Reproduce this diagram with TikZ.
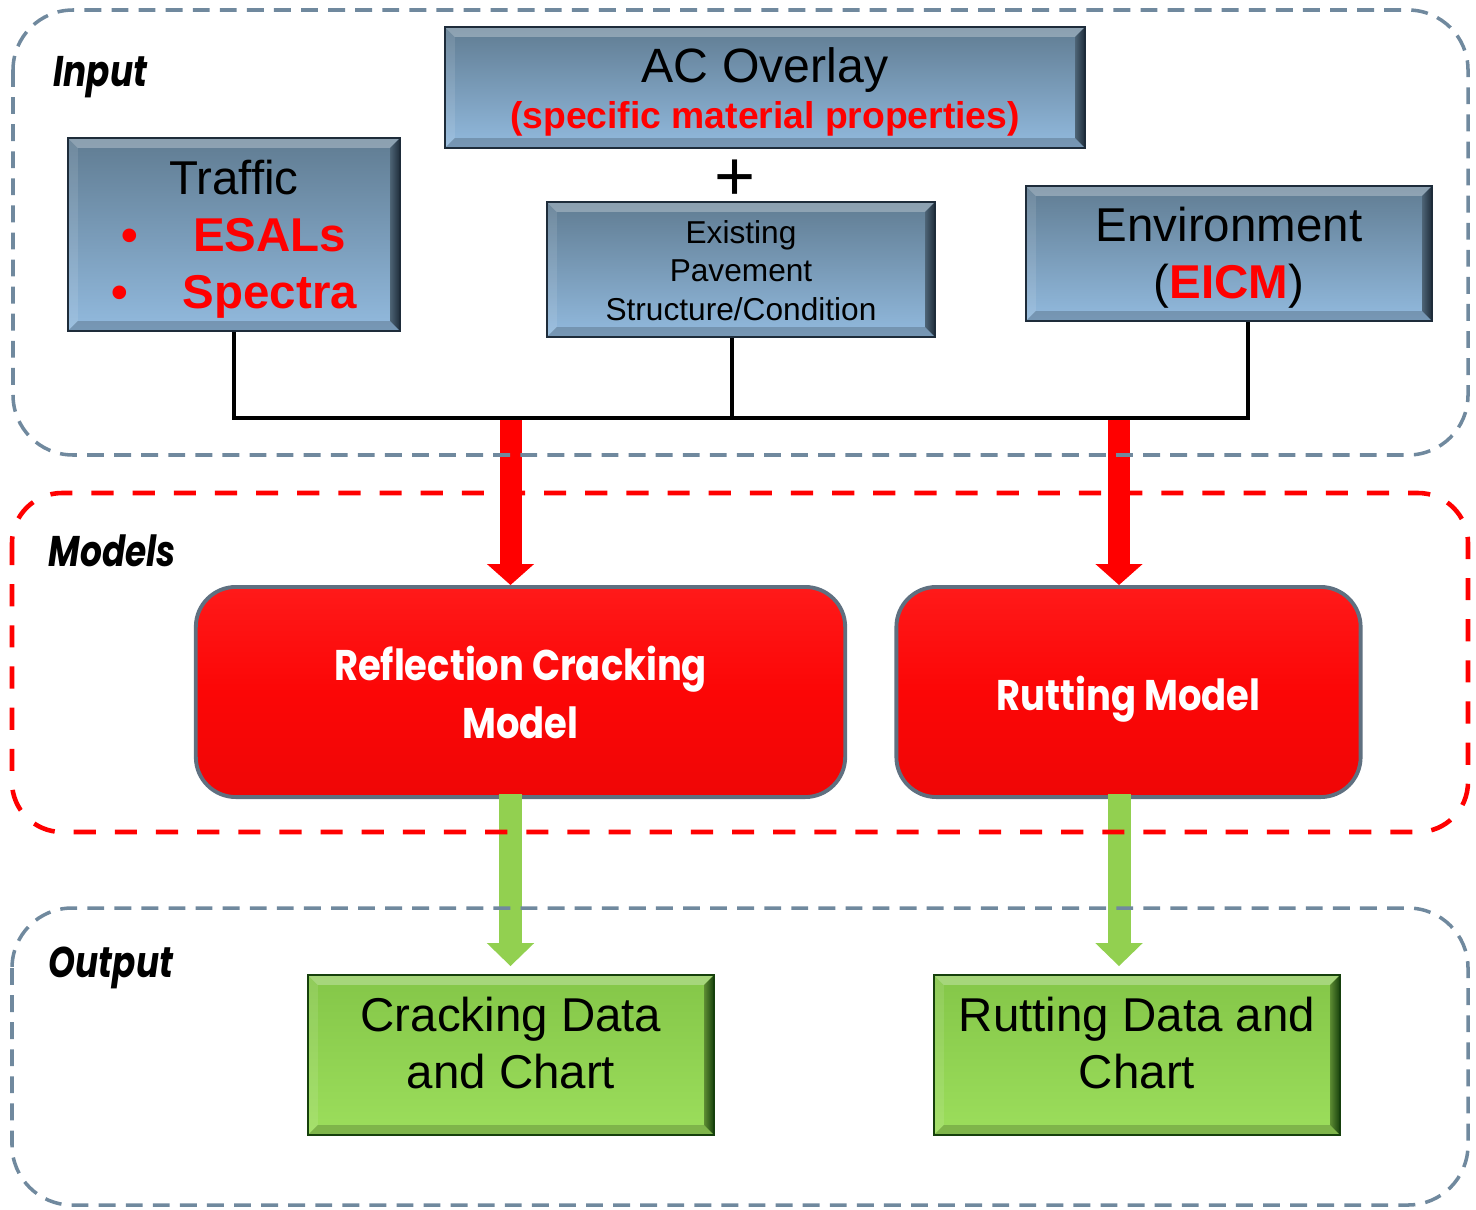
\documentclass[tikz,border=0pt]{standalone}
\usepackage{fontspec}
\setmainfont{Liberation Sans}
\newfontfamily\futura[FakeStretch=0.86]{Poppins}
\newfontfamily\futuralab[FakeStretch=0.80]{Poppins}
\usetikzlibrary{arrows.meta}
\definecolor{slate}{RGB}{112,137,158}
\definecolor{bluetop}{RGB}{96,124,146}
\definecolor{bluebot}{RGB}{146,186,222}
\definecolor{bluedark}{RGB}{30,44,58}
\definecolor{greentop}{RGB}{132,198,72}
\definecolor{greenbot}{RGB}{156,222,92}
\definecolor{greendark}{RGB}{22,64,12}
\definecolor{myred}{RGB}{255,0,0}
\definecolor{boxred}{RGB}{252,6,6}
\definecolor{redrim}{RGB}{95,112,128}
\definecolor{arrowgreen}{RGB}{146,208,80}
\def\bv{0.1cm}
\newcommand\shifted[2]{\raisebox{#1}[\height][\depth]{\begin{tabular}{@{}c@{}}#2\end{tabular}}}
\tikzset{
  bevelbox/.style n args={4}{inner sep=0pt, align=center, line width=0.5pt,
    top color=#1, bottom color=#2, draw=#3,
    path picture={
      \fill[white, opacity=0.28] (path picture bounding box.north west) -- (path picture bounding box.north east)
        -- ([shift={(-\bv,-\bv)}]path picture bounding box.north east) -- ([shift={(\bv,-\bv)}]path picture bounding box.north west) -- cycle;
      \fill[white, opacity=0.10] (path picture bounding box.north west) -- (path picture bounding box.south west)
        -- ([shift={(\bv,\bv)}]path picture bounding box.south west) -- ([shift={(\bv,-\bv)}]path picture bounding box.north west) -- cycle;
      \fill[black, opacity=0.18] (path picture bounding box.south west) -- (path picture bounding box.south east)
        -- ([shift={(-\bv,\bv)}]path picture bounding box.south east) -- ([shift={(\bv,\bv)}]path picture bounding box.south west) -- cycle;
      \shade[left color=#4, right color=#3] (path picture bounding box.north east) -- (path picture bounding box.south east)
        -- ([shift={(-\bv,\bv)}]path picture bounding box.south east) -- ([shift={(-\bv,-\bv)}]path picture bounding box.north east) -- cycle;
    }},
  bluebox/.style={bevelbox={bluetop}{bluebot}{bluedark}{bluetop!80!black}},
  greenbox/.style={bevelbox={greentop}{greenbot}{greendark}{greentop!70!black}},
  modelbox/.style={inner sep=0pt, align=center, rounded corners=0.4cm, draw=redrim, line width=1.1pt,
    top color=myred!90!white, bottom color=boxred!95!black, middle color=boxred, text=white,
    font=\futura\fontsize{12.2}{16.5}\selectfont\bfseries},
  grouplabel/.style={anchor=base west, inner sep=0pt, font=\futuralab\fontsize{12.2}{14}\selectfont\bfseries\itshape},
  bigtext/.style={font=\fontsize{13.5}{16.2}\selectfont},
  bus/.style={draw=black, line width=1.15pt},
  redarrow/.style={draw=myred, line width=0.22cm, -{Triangle[width=0.46cm,length=0.21cm]}},
  greenarrow/.style={draw=arrowgreen, line width=0.23cm, -{Triangle[width=0.46cm,length=0.23cm]}},
  graydash/.style={draw=slate, line width=1pt, dash pattern=on 4.8pt off 2.9pt, rounded corners=0.6cm},
  reddash/.style={draw=myred, line width=1.3pt, dash pattern=on 6.3pt off 5.4pt, rounded corners=0.5cm}
}
\begin{document}
\begin{tikzpicture}[x=0.01cm, y=-0.01cm]
\useasboundingbox (0,0) rectangle (1476,1209);

% input boxes
\node[bluebox, minimum width=6.40cm, minimum height=1.21cm, font=\fontsize{13.7}{13.1}\selectfont] (ac) at (765,87.5)
  {\shifted{-0.075cm}{AC Overlay\\{\fontsize{10.6}{13.1}\selectfont\bfseries\color{myred}(specific material properties)}}};
\node[bluebox, bigtext, minimum width=3.32cm, minimum height=1.93cm] (traffic) at (234,234.5)
  {\shifted{-0.06cm}{Traffic\\{\bfseries\color{myred}\textbullet\hspace{0.55cm}ESALs}\\{\bfseries\color{myred}\textbullet\hspace{0.55cm}Spectra}}};
\node[font=\fontsize{20}{20}\selectfont, inner sep=0pt] (plus) at (735,180) {+};
\node[bluebox, minimum width=3.88cm, minimum height=1.35cm, font=\fontsize{9}{11}\selectfont] (exist) at (741,269.5)
  {\shifted{-0.045cm}{Existing\\Pavement\\Structure/Condition}};
\node[bluebox, bigtext, minimum width=4.06cm, minimum height=1.35cm] (env) at (1229,253.5)
  {\shifted{-0.055cm}{Environment\\(\textbf{\color{myred}EICM})}};

% model boxes
\node[modelbox, minimum width=6.49cm, minimum height=2.10cm] (refl) at (520.5,692) {Reflection Cracking\\Model};
\node[modelbox, minimum width=4.64cm, minimum height=2.10cm] (rut) at (1128.5,692)
  {\raisebox{-0.07cm}[\height][\depth]{Rutting Model}};

% output boxes
\node[greenbox, bigtext, minimum width=4.06cm, minimum height=1.60cm] (crack) at (511,1055)
  {\shifted{0.06cm}{Cracking Data\\and Chart}};
\node[greenbox, bigtext, minimum width=4.06cm, minimum height=1.60cm] (rdata) at (1137,1055)
  {\shifted{0.06cm}{Rutting Data and\\Chart}};

% group labels
\node[grouplabel] (linput) at (53,87) {Input};
\node[grouplabel] (lmodels) at (48,566) {Models};
\node[grouplabel] (loutput) at (48,977) {Output};

% bus
\coordinate (bus1) at (234,418);
\coordinate (bus2) at (732,418);
\coordinate (bus3) at (1248,418);
\draw[bus] (traffic.south) -- (bus1) -- (bus3) -- (bus3 |- env.south);
\draw[bus] (bus2 |- exist.south) -- (bus2);

% arrows
\coordinate (ra1) at (510.5,420);
\coordinate (ra2) at (1119,420);
\draw[redarrow] (ra1) -- (ra1 |- refl.north);
\draw[redarrow] (ra2) -- (ra2 |- rut.north);
\coordinate (ga1) at (510.5,794);
\coordinate (ga2) at (1119,794);
\draw[greenarrow] (ga1) -- ([yshift=0.08cm]ga1 |- crack.north);
\draw[greenarrow] (ga2) -- ([yshift=0.08cm]ga2 |- rdata.north);

% containers
\draw[graydash] (13,10) rectangle (1468,455);
\draw[reddash] (12,493) rectangle (1468,832);
\draw[graydash] (12,908) rectangle (1468,1205);
\end{tikzpicture}
\end{document}
